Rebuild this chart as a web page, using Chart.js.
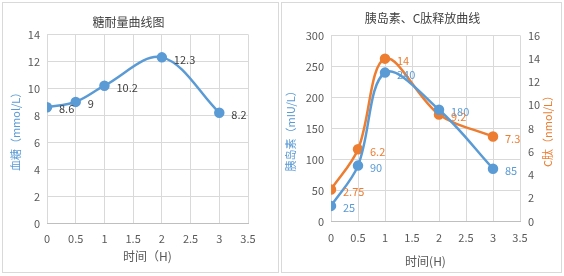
<!DOCTYPE html>
<html>
<head>
  <title>糖耐量 / 胰岛素、C肽释放曲线</title>
  <script src="https://cdn.jsdelivr.net/npm/chart.js"></script>
  <style>
    body { margin: 0; background: #fff; width: 564px; height: 276px; position: relative; overflow: hidden; }
    .box { position: absolute; border: 1px solid #d9d9d9; background: #fff; }
    #box1 { left: 2px; top: 2px; width: 275px; height: 269px; }
    #box2 { left: 281px; top: 2px; width: 279px; height: 269px; }
    .box canvas { display: block; }
  </style>
</head>
<body>
  <div class="box" id="box1"><canvas id="glucoseChart"></canvas></div>
  <div class="box" id="box2"><canvas id="releaseChart"></canvas></div>

  <script>
    // data
    const timeHours = [0, 0.5, 1, 2, 3];
    const glucose = [8.6, 9, 10.2, 12.3, 8.2];
    const insulin = [25, 90, 240, 180, 85];
    const cPeptide = [2.75, 6.2, 14, 9.2, 7.3];
    const xTicks = [0, 0.5, 1, 1.5, 2, 2.5, 3, 3.5];

    const FONT = "'Noto Sans CJK SC', 'Noto Sans', sans-serif";
    const BLUE = '#5b9bd5', ORANGE = '#ed7d31', GRAY = '#595959', GRID = '#d9d9d9';

    const pts = ys => timeHours.map((x, i) => ({ x, y: ys[i] }));

    // value labels to the right of each point
    const pointLabels = {
      id: 'pointLabels',
      afterDatasetsDraw(chart) {
        const ctx = chart.ctx;
        ctx.save();
        ctx.font = '11px ' + FONT;
        ctx.textBaseline = 'middle';
        ctx.textAlign = 'left';
        chart.data.datasets.forEach((ds, di) => {
          const meta = chart.getDatasetMeta(di);
          ctx.fillStyle = ds.labelColor;
          meta.data.forEach((p, i) => {
            ctx.fillText(String(ds.data[i].y), p.x + 12, p.y + 2);
          });
        });
        ctx.restore();
      }
    };

    // right axis title reads bottom-to-top like the left one
    const rightTitle = {
      id: 'rightTitle',
      afterDraw(chart, args, opts) {
        if (!opts.text) return;
        const ctx = chart.ctx, a = chart.chartArea;
        ctx.save();
        ctx.translate(opts.x, (a.top + a.bottom) / 2);
        ctx.rotate(-Math.PI / 2);
        ctx.font = '11px ' + FONT;
        ctx.fillStyle = opts.color;
        ctx.textAlign = 'center';
        ctx.textBaseline = 'middle';
        ctx.fillText(opts.text, 0, 0);
        ctx.restore();
      }
    };

    const xScale = (titleText, tickPad, titlePad) => ({
      type: 'linear', min: 0, max: 3.5,
      afterBuildTicks: s => { s.ticks = xTicks.map(v => ({ value: v })); },
      grid: { color: GRID, drawTicks: false },
      border: { color: '#bfbfbf' },
      ticks: { color: GRAY, font: { family: FONT, size: 11 }, padding: tickPad, callback: v => String(v) },
      title: { display: true, text: titleText, color: GRAY, font: { family: FONT, size: 12 }, padding: { top: titlePad, bottom: 0 } }
    });

    const lineStyle = color => ({
      showLine: true, borderColor: color, backgroundColor: color,
      borderWidth: 2.5, pointRadius: 4, pointHoverRadius: 4, tension: 0.35
    });

    new Chart(document.getElementById('glucoseChart'), {
      type: 'scatter',
      data: {
        datasets: [Object.assign({ data: pts(glucose), labelColor: '#404040' }, lineStyle(BLUE))]
      },
      options: {
        responsive: true, maintainAspectRatio: false, animation: false,
        layout: { padding: { left: 6, right: 30, top: 0, bottom: 8 } },
        plugins: {
          legend: { display: false }, tooltip: { enabled: false },
          title: { display: true, text: '糖耐量曲线图', color: '#404040', font: { family: FONT, size: 12, weight: 'normal' }, padding: { top: 12, bottom: 5 } }
        },
        scales: {
          x: xScale('时间（H)', 9, -5),
          y: {
            min: 0, max: 14,
            ticks: { stepSize: 2, color: GRAY, font: { family: FONT, size: 11 }, padding: 7 },
            grid: { color: GRID, drawTicks: false },
            border: { display: false },
            afterFit: s => { s.width = 38; },
            title: { display: true, text: '血糖（mmol/L）', color: BLUE, font: { family: FONT, size: 11 }, padding: 0 }
          }
        }
      },
      plugins: [pointLabels]
    });

    new Chart(document.getElementById('releaseChart'), {
      type: 'scatter',
      data: {
        datasets: [
          Object.assign({ data: pts(insulin), yAxisID: 'y', labelColor: BLUE }, lineStyle(BLUE)),
          Object.assign({ data: pts(cPeptide), yAxisID: 'y2', labelColor: ORANGE }, lineStyle(ORANGE))
        ]
      },
      options: {
        responsive: true, maintainAspectRatio: false, animation: false,
        layout: { padding: { left: 2, right: 0, top: 0, bottom: 3 } },
        plugins: {
          legend: { display: false }, tooltip: { enabled: false },
          title: { display: true, text: '胰岛素、C肽释放曲线', color: '#404040', font: { family: FONT, size: 12, weight: 'normal' }, padding: { top: 8, bottom: 10 } },
          rightTitle: { text: 'C肽（nmol/L）', color: ORANGE, x: 266 }
        },
        scales: {
          x: xScale('时间(H)', 10, 0),
          y: {
            position: 'left', min: 0, max: 300,
            ticks: { stepSize: 50, color: GRAY, font: { family: FONT, size: 11 }, padding: 7 },
            grid: { color: GRID, drawTicks: false },
            border: { display: false },
            afterFit: s => { s.width = 47; },
            title: { display: true, text: '胰岛素（mIU/L）', color: BLUE, font: { family: FONT, size: 11 }, padding: 0 }
          },
          y2: {
            position: 'right', min: 0, max: 16,
            ticks: { stepSize: 2, color: GRAY, font: { family: FONT, size: 11 }, padding: 8 },
            grid: { drawOnChartArea: false, drawTicks: false },
            border: { display: false },
            afterFit: s => { s.width = 41; }
          }
        }
      },
      plugins: [pointLabels, rightTitle]
    });
  </script>
</body>
</html>
